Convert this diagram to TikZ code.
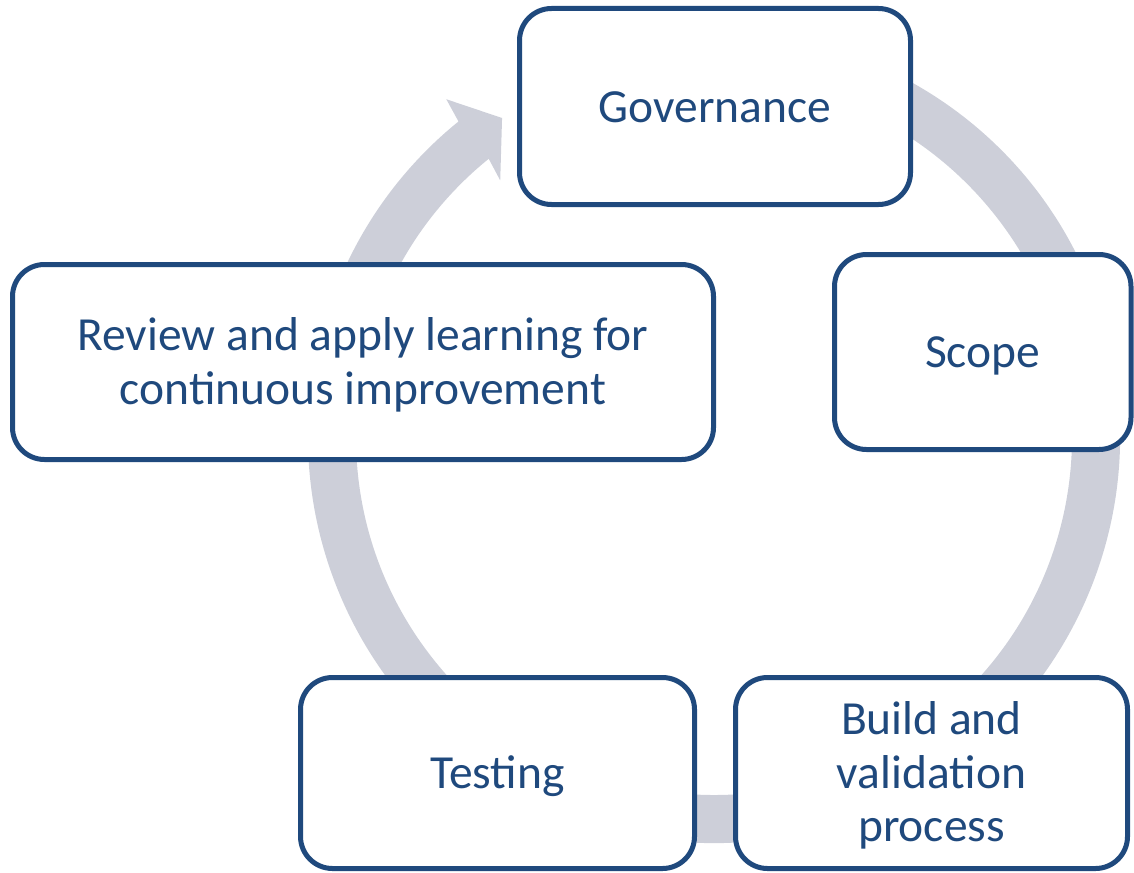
\documentclass[tikz,border=0pt]{standalone}
\usepackage{fontspec}
\setmainfont{Carlito}
\usetikzlibrary{calc}
\definecolor{boxblue}{HTML}{1F497D}
\definecolor{ringgray}{HTML}{CDCFD9}
\tikzset{
  stagebox/.style={draw=boxblue, line width=5pt, fill=white, rounded corners=32pt,
    inner sep=0pt, text=boxblue, align=center, text depth=0pt,
    font=\fontsize{47.5pt}{53.5pt}\selectfont},
  oneline/.style={text height=31pt},
  twolines/.style={text height=84.5pt},
  threelines/.style={text height=137pt}
}
\begin{document}
\begin{tikzpicture}[x=1pt,y=1pt]
\useasboundingbox (0,0) rectangle (1134,-872);
\coordinate (C) at (714,-437);
% circular arrow
\fill[ringgray] ($(C)+(110:406pt)$) arc[start angle=110, end angle=-231, radius=406pt]
  -- ($(C)+(128.4:431pt)$) -- ($(C)+(123.6:383pt)$) -- ($(C)+(129.8:334pt)$)
  -- ($(C)+(129:358pt)$) arc[start angle=-231, end angle=110, radius=358pt] -- cycle;
% boxes
\node[stagebox, oneline, minimum width=391pt, minimum height=196pt] (gov) at (715,-106.5) {Governance};
\node[stagebox, oneline, minimum width=296.5pt, minimum height=195pt] (scope) at (982.75,-352) {Scope};
\node[stagebox, threelines, minimum width=392pt, minimum height=191pt] (build) at (931.5,-773) {Build and\\validation\\process};
\node[stagebox, oneline, minimum width=394pt, minimum height=191pt] (test) at (497.5,-773) {Testing};
\node[stagebox, twolines, minimum width=701pt, minimum height=195pt] (review) at (363,-362) {Review and apply learning for\\continuous improvement};
\end{tikzpicture}
\end{document}
